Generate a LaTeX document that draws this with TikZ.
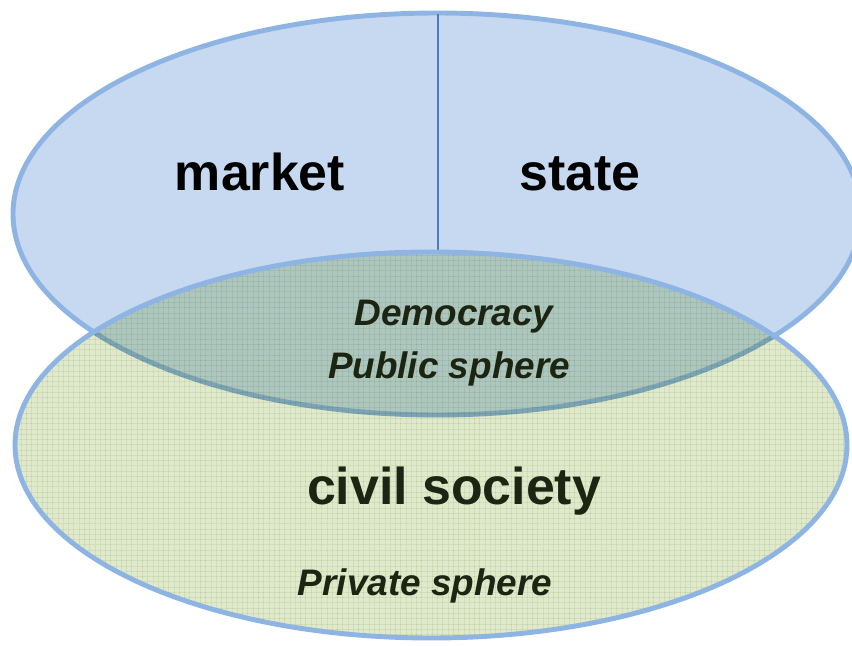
\documentclass[tikz,border=0pt]{standalone}
\usepackage{fontspec}
\setmainfont{Liberation Sans}
\usetikzlibrary{patterns}

\definecolor{cielo}{RGB}{198,217,241}
\definecolor{bordo}{RGB}{142,180,227}
\definecolor{divisore}{RGB}{74,126,187}
\definecolor{prato}{RGB}{224,233,204}
\definecolor{trama}{RGB}{175,195,140}
\definecolor{inchiostro}{RGB}{28,36,18}

\begin{document}
\begin{tikzpicture}[
  bordo/.style={draw=bordo, line width=2.8pt},
  grande/.style={font=\bfseries\fontsize{29.5}{32}\selectfont, anchor=base},
  piccolo/.style={font=\bfseries\itshape\fontsize{21}{24}\selectfont, anchor=base, text=inchiostro}]

%Area del disegno (17.04 x 12.9)
\useasboundingbox (0,0) rectangle (17.04,12.9);
\clip (0,0) rectangle (17.04,12.9);

%Ellisse superiore: mercato e stato
\fill[cielo] (8.74,8.62) ellipse [x radius=8.48, y radius=4.02];
\draw[bordo] (8.74,8.62) ellipse [x radius=8.48, y radius=4.02];

%Punti per la linea di separazione
\coordinate (cima) at (8.76,12.62);
\coordinate (fondo) at (8.76,7.84);
\draw[divisore, line width=1.1pt] (cima) -- (fondo);

%Ellisse inferiore: societa' civile (moltiplica i colori sotto)
\begin{scope}[blend mode=multiply]
\fill[prato] (8.62,4.0) ellipse [x radius=8.32, y radius=3.86];
\fill[pattern=grid, pattern color=trama, opacity=0.2] (8.62,4.0) ellipse [x radius=8.32, y radius=3.86];
\end{scope}
\draw[bordo] (8.62,4.0) ellipse [x radius=8.32, y radius=3.86];

%Scritte
\node[grande] (mercato) at (5.2,9.08) {market};
\node[grande] (stato) at (11.6,9.08) {state};
\node[piccolo] (democrazia) at (9.08,6.4) {Democracy};
\node[piccolo] (pubblica) at (8.98,5.34) {Public sphere};
\node[grande, text=inchiostro] (civile) at (9.08,2.82) {civil society};
\node[piccolo] (privata) at (8.5,1.0) {Private sphere};

\end{tikzpicture}
\end{document}
